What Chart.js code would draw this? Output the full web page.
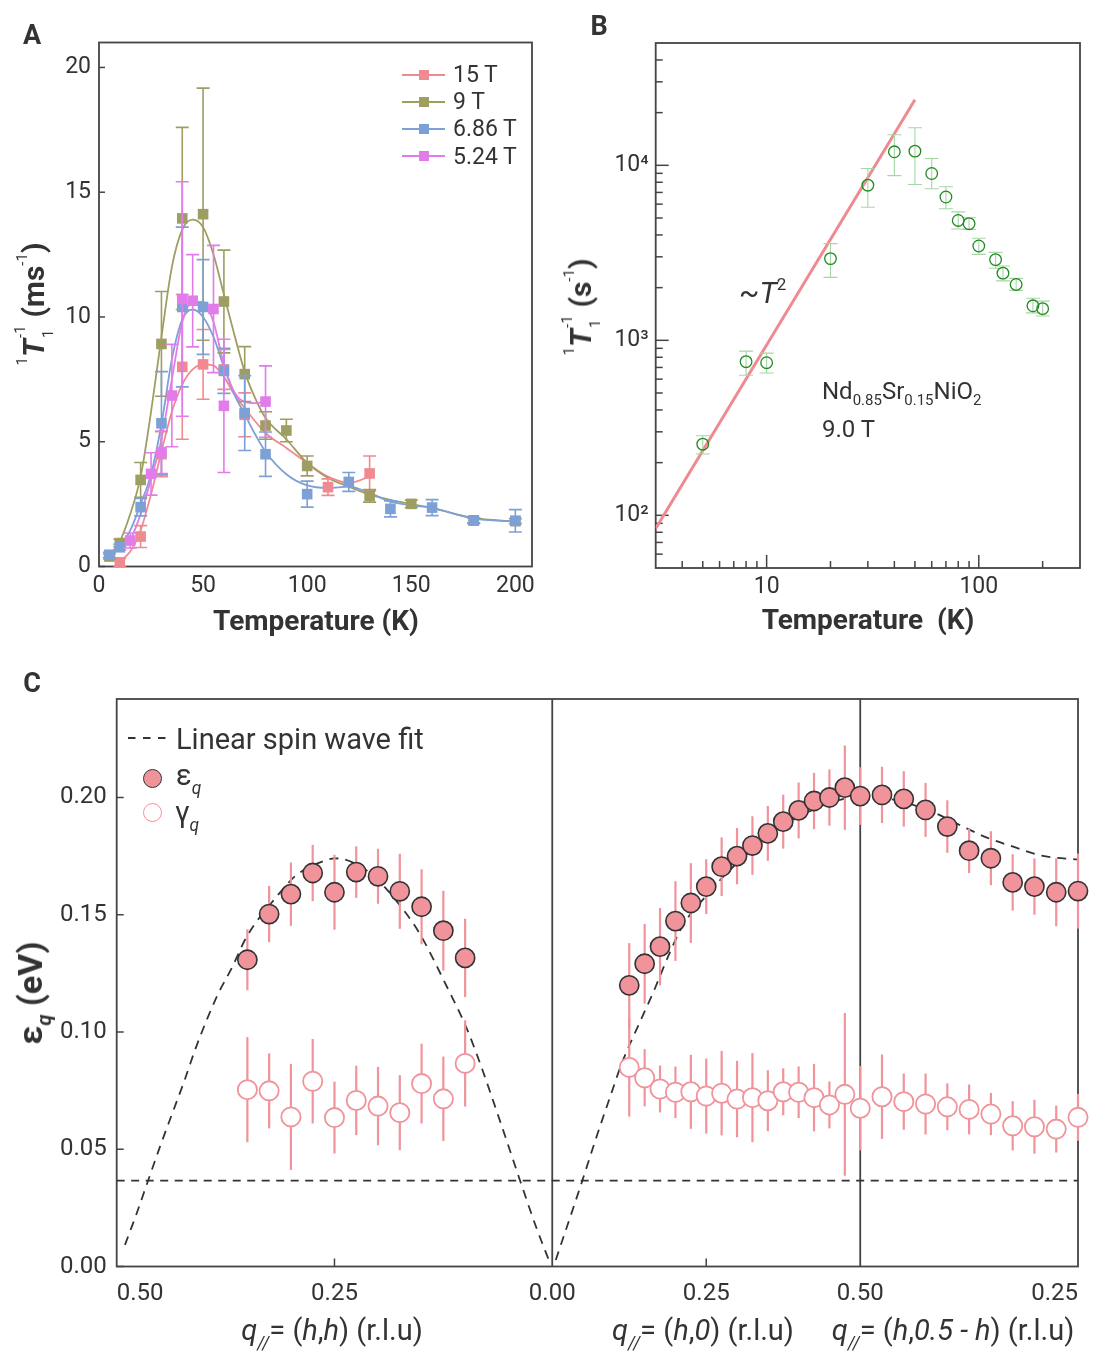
<!DOCTYPE html>
<html>
<head>
<meta charset="utf-8">
<script src="https://cdn.jsdelivr.net/npm/chart.js@4.4.1/dist/chart.umd.min.js"></script>
<style>
html,body{margin:0;padding:0;background:#fff}
body{width:1104px;height:1364px;position:relative;overflow:hidden;font-family:Roboto,sans-serif;color:#333}
canvas{position:absolute;display:block}
.t{position:absolute;white-space:nowrap;line-height:1;color:#333}
.c{transform:translate(-50%,-50%)}
.rot{transform:translate(-50%,-50%) rotate(-90deg)}
.b{font-weight:bold}
.yt .sp{font-size:15px;position:relative;top:-17px;font-weight:normal}
.yt .stk{display:inline-block;position:relative;width:14px;height:1px}
.yt .stk .u{position:absolute;left:1px;top:-30px;font-size:15px;font-weight:normal}
.yt .stk .d{position:absolute;left:1px;top:-2px;font-size:15px;font-weight:normal}
.qs{font-size:0.6em;position:relative;top:0.5em}
.lgrow{position:absolute;height:0}
.lgrow .ln{position:absolute;left:0;top:-1px;width:43px;height:2px}
.lgrow .sq{position:absolute;left:16.5px;top:-5px;width:10px;height:10px}
.lgrow .tx{position:absolute;left:51px;top:-11.5px;font-size:23px;line-height:1;color:#333;white-space:nowrap}
</style>
</head>
<body>
<canvas id="cA" width="552" height="650" style="left:0;top:0"></canvas>
<canvas id="cB" width="552" height="650" style="left:552px;top:0"></canvas>
<canvas id="cC" width="1104" height="714" style="left:0;top:650px"></canvas>

<div class="t c b" style="left:32px;top:35px;font-size:27px">A</div>
<div class="t c b" style="left:599px;top:26px;font-size:27px">B</div>
<div class="t c b" style="left:32px;top:683px;font-size:27px">C</div>

<div class="t c b" style="left:316px;top:621px;font-size:28px">Temperature (K)</div>
<div class="t c b" style="left:868px;top:620px;font-size:28px">Temperature&nbsp; (K)</div>

<div class="t rot b yt" style="left:34px;top:304px;font-size:30px"><span class="sp">1</span><i>T</i><span class="stk"><span class="u">-1</span><span class="d">1</span></span> (ms<span class="sp">-1</span>)</div>
<div class="t rot b yt" style="left:581px;top:307px;font-size:30px"><span class="sp">1</span><i>T</i><span class="stk"><span class="u">-1</span><span class="d">1</span></span> (s<span class="sp">-1</span>)</div>

<div class="t" style="left:739px;top:278px;font-size:30px">~<i>T</i><span style="font-size:17px;position:relative;top:-13px">2</span></div>
<div class="t" style="left:822px;top:379px;font-size:24px">Nd<span style="font-size:15px;position:relative;top:6px">0.85</span>Sr<span style="font-size:15px;position:relative;top:6px">0.15</span>NiO<span style="font-size:15px;position:relative;top:6px">2</span></div>
<div class="t" style="left:822px;top:417px;font-size:24px">9.0 T</div>

<div id="legA"></div>

<svg style="position:absolute;left:127px;top:733px" width="44" height="10"><line x1="1" y1="5" x2="42" y2="5" stroke="#333" stroke-width="1.8" stroke-dasharray="7.5,7.5"/></svg>
<div class="t" style="left:176px;top:725px;font-size:29px">Linear spin wave fit</div>
<div style="position:absolute;left:142.5px;top:768.5px;width:17px;height:17px;border-radius:50%;background:#f0939a;border:1.6px solid #333"></div>
<div class="t" style="left:176px;top:761px;font-size:29px">ε<i class="qs">q</i></div>
<div style="position:absolute;left:142.5px;top:803px;width:17px;height:17px;border-radius:50%;background:#fff;border:1.8px solid #f0939a"></div>
<div class="t" style="left:175px;top:798px;font-size:29px">γ<i class="qs">q</i></div>

<div class="t rot b" style="left:30px;top:993px;font-size:34px">ε<i class="qs" style="top:0.45em">q</i> (eV)</div>

<div class="t c" style="left:332px;top:1330px;font-size:29px"><i>q</i><i class="qs">//</i>= (<i>h</i>,<i>h</i>) (r.l.u)</div>
<div class="t c" style="left:703px;top:1330px;font-size:29px"><i>q</i><i class="qs">//</i>= (<i>h</i>,<i>0</i>) (r.l.u)</div>
<div class="t c" style="left:953px;top:1330px;font-size:29px"><i>q</i><i class="qs">//</i>= (<i>h</i>,<i>0.5 - h</i>) (r.l.u)</div>

<script>
// ================= DATA =================
// Panel A : 1/T1 (ms^-1) vs temperature (K) for four fields
const seriesNamesA = ['15 T', '9 T', '6.86 T', '5.24 T'];
const tA15 = [10, 20, 30, 40, 50, 60, 70, 110, 130];
const vA15 = [0.17, 1.2, 4.5, 8.0, 8.1, 7.9, 6.08, 3.18, 3.73];
const eA15 = [0.15, 0.44, 0.9, 2.9, 1.4, 0.8, 0.88, 0.33, 0.7];
const tA9 = [5, 10, 20, 30, 40, 50, 60, 70, 80, 90, 100, 130, 150, 180, 200];
const vA9 = [0.40, 0.94, 3.47, 8.92, 13.95, 14.12, 10.62, 7.71, 5.65, 5.45, 4.03, 2.83, 2.51, 1.85, 1.82];
const eA9 = [0.1, 0.15, 0.7, 2.1, 3.65, 5.05, 2.06, 1.1, 0.55, 0.45, 0.4, 0.25, 0.15, 0.1, 0.1];
const tA686 = [5, 10, 20, 30, 40, 50, 60, 70, 80, 100, 120, 140, 160, 180, 200];
const vA686 = [0.47, 0.77, 2.38, 5.74, 10.4, 10.4, 7.84, 6.15, 4.5, 2.9, 3.39, 2.31, 2.36, 1.84, 1.83];
const eA686 = [0.1, 0.12, 0.35, 2.07, 3.2, 1.9, 0.9, 1.5, 0.89, 0.52, 0.38, 0.32, 0.32, 0.12, 0.45];
const tA524 = [15, 25, 30, 35, 40, 45, 55, 60, 80];
const vA524 = [1.04, 3.71, 4.58, 6.85, 10.72, 10.65, 10.32, 6.44, 6.61];
const eA524 = [0.3, 0.85, 0.85, 2.05, 4.7, 1.85, 2.55, 2.67, 1.43];
// fitted curves
const fitA15T = [10, 15, 20, 25, 30, 35, 40, 45, 50, 55, 60, 65, 70, 80, 90, 100, 110, 120, 130];
const fitA15V = [0.2, 0.6, 1.45, 2.9, 4.6, 6.2, 7.3, 7.9, 8.1, 8.05, 7.6, 6.9, 6.35, 5.35, 4.75, 4.15, 3.6, 3.35, 3.6];
const fitA9T = [5, 10, 15, 20, 25, 30, 35, 40, 45, 50, 55, 60, 65, 70, 75, 80, 90, 100, 110, 120, 130, 140, 150, 160, 180, 200];
const fitA9V = [0.45, 1.0, 2.1, 3.6, 6.2, 9.2, 12.0, 13.5, 13.9, 13.6, 12.5, 10.9, 9.3, 7.8, 6.75, 5.95, 5.1, 4.15, 3.55, 3.2, 2.88, 2.67, 2.5, 2.34, 1.95, 1.8];
const fitA686T = [5, 10, 15, 20, 25, 30, 35, 40, 45, 50, 55, 60, 65, 70, 75, 80, 90, 100, 110, 120, 130, 140, 150, 160, 180, 200];
const fitA686V = [0.47, 0.85, 1.45, 2.5, 3.7, 5.7, 8.3, 9.9, 10.3, 10.0, 9.2, 8.0, 6.9, 6.1, 5.3, 4.6, 3.7, 3.25, 3.15, 3.2, 2.95, 2.6, 2.45, 2.35, 1.92, 1.8];
const fitA524T = [15, 20, 25, 30, 35, 40, 45, 50, 55, 60, 65, 70, 75, 80];
const fitA524V = [1.0, 2.1, 3.5, 5.1, 7.5, 9.8, 10.6, 10.6, 9.8, 8.1, 7.0, 6.6, 6.55, 6.6];
const ticksAx = [0, 50, 100, 150, 200];
const ticksAy = [0, 5, 10, 15, 20];

// Panel B : 1/T1 (s^-1) vs T, log-log
const tB = [5, 8, 10, 20, 30, 40, 50, 60, 70, 80, 90, 100, 120, 130, 150, 180, 200];
const rB = [255, 755, 745, 2930, 7700, 11950, 12050, 8980, 6590, 4840, 4640, 3460, 2890, 2420, 2085, 1575, 1517];
const rBlo = [224, 632, 650, 2290, 5760, 8730, 7770, 7350, 5650, 4330, 4300, 3100, 2580, 2185, 1930, 1435, 1378];
const rBhi = [285, 868, 845, 3570, 9590, 14960, 16400, 10930, 7550, 5420, 5020, 3830, 3180, 2660, 2260, 1740, 1675];
const fitBT = [3, 50];
const fitBR = [84, 23700];
const ticksBx = [10, 100];
const tickLabelsBx = ['10', '100'];
const minorBx = [4, 5, 6, 7, 8, 9, 20, 30, 40, 50, 60, 70, 80, 90, 200];
const ticksBy = [100, 1000, 10000];
const tickLabelsBy = ['10²', '10³', '10⁴'];
const minorBy = [60, 70, 80, 90, 200, 300, 400, 500, 600, 700, 800, 900, 2000, 3000, 4000, 5000, 6000, 7000, 8000, 9000, 20000, 30000, 40000];

// Panel C : magnon energy and damping along three q paths
const hHH = [0.35, 0.325, 0.30, 0.275, 0.25, 0.225, 0.20, 0.175, 0.15, 0.125, 0.10];
const epsHH = [0.1308, 0.1503, 0.1588, 0.1678, 0.1596, 0.1682, 0.1664, 0.1600, 0.1534, 0.1432, 0.1316];
const epsErrHH = [0.013, 0.012, 0.0135, 0.012, 0.016, 0.011, 0.0117, 0.016, 0.016, 0.017, 0.0167];
const gamHH = [0.0754, 0.0749, 0.0638, 0.079, 0.0635, 0.0708, 0.0684, 0.0656, 0.078, 0.0715, 0.0866];
const gamErrHH = [0.0224, 0.016, 0.0226, 0.018, 0.0153, 0.0148, 0.0167, 0.016, 0.017, 0.018, 0.0184];
const hH0 = [0.125, 0.15, 0.175, 0.2, 0.225, 0.25, 0.275, 0.3, 0.325, 0.35, 0.375, 0.4, 0.425, 0.45, 0.475, 0.5];
const epsH0 = [0.1199, 0.1291, 0.1364, 0.1473, 0.155, 0.162, 0.1705, 0.175, 0.1795, 0.1847, 0.1897, 0.1945, 0.1985, 0.2, 0.2042, 0.2006];
const epsErrH0 = [0.018, 0.017, 0.0165, 0.017, 0.017, 0.0117, 0.0125, 0.012, 0.0125, 0.0117, 0.0115, 0.0119, 0.012, 0.012, 0.018, 0.0123];
const gamH0 = [0.0849, 0.0805, 0.0757, 0.0743, 0.0745, 0.0727, 0.0739, 0.0714, 0.072, 0.0707, 0.0745, 0.0743, 0.072, 0.0689, 0.0734, 0.0675];
const gamErrH0 = [0.021, 0.0122, 0.01, 0.011, 0.0158, 0.016, 0.018, 0.0163, 0.019, 0.013, 0.01, 0.011, 0.0144, 0.01, 0.0347, 0.018];
const hHK = [0.475, 0.45, 0.425, 0.4, 0.375, 0.35, 0.325, 0.3, 0.275, 0.25];
const epsHK = [0.2011, 0.1994, 0.1947, 0.1876, 0.1773, 0.1741, 0.1638, 0.162, 0.1596, 0.1601];
const epsErrHK = [0.012, 0.0118, 0.0115, 0.0112, 0.0095, 0.0115, 0.012, 0.012, 0.0145, 0.016];
const gamHK = [0.0724, 0.0703, 0.0693, 0.0681, 0.067, 0.065, 0.06, 0.0596, 0.0586, 0.0636];
const gamErrHK = [0.018, 0.012, 0.013, 0.01, 0.0106, 0.009, 0.0105, 0.0115, 0.01, 0.01];
// linear spin wave fit
const fitHHh = [0.4905, 0.477, 0.4637, 0.4503, 0.4369, 0.4227, 0.4101, 0.3967, 0.3833, 0.368, 0.3508, 0.3164, 0.2934, 0.259, 0.25, 0.2399, 0.2066, 0.1748, 0.1518, 0.1212, 0.0982, 0.083, 0.06, 0.037, 0.0179, 0.0026];
const fitHHe = [0.0092, 0.0227, 0.0369, 0.0511, 0.0646, 0.0788, 0.0923, 0.1051, 0.1165, 0.1272, 0.1406, 0.1577, 0.167, 0.1733, 0.1740, 0.1737, 0.167, 0.154, 0.1417, 0.1195, 0.1015, 0.0868, 0.0621, 0.0367, 0.0162, 0.0015];
const fitH0h = [0.0057, 0.0447, 0.0738, 0.096, 0.113, 0.1437, 0.1633, 0.188, 0.208, 0.225, 0.25, 0.275, 0.3, 0.325, 0.35, 0.375, 0.4, 0.425, 0.45, 0.475, 0.5];
const fitH0e = [0.0028, 0.0333, 0.0568, 0.0739, 0.0867, 0.1051, 0.1165, 0.1321, 0.1435, 0.1505, 0.158, 0.1655, 0.172, 0.178, 0.1833, 0.1878, 0.1918, 0.195, 0.1977, 0.1995, 0.2005];
const fitHKh = [0.5, 0.475, 0.45, 0.4138, 0.3821, 0.3553, 0.3227, 0.2919, 0.25];
const fitHKe = [0.2005, 0.1999, 0.198, 0.1933, 0.1876, 0.183, 0.1788, 0.1752, 0.1735];
const gapLevel = 0.0366;
const ticksCy = [0, 0.05, 0.10, 0.15, 0.20];
const tickLabelsCx = ['0.50', '0.25', '0.00', '0.25', '0.50', '0.25'];

// ================= HELPERS =================
const R2 = Math.SQRT2;
const sHH = h => (0.5 - h) * R2;            // (h,h) path, h: 0.5 -> 0
const sH0 = h => 0.5 * R2 + h;              // (h,0) path, h: 0 -> 0.5
const sHK = h => 0.5 * R2 + 0.5 + (0.5 - h) * R2; // (h,0.5-h) path, h: 0.5 -> 0.25
const sMax = sHK(0.25);
const tickPosCx = [sHH(0.5), sHH(0.25), sHH(0), sH0(0.25), sH0(0.5), sHK(0.25)];

const xy = (xs, ys) => xs.map((x, i) => ({x: x, y: ys[i]}));
function zeroPad(s) { s.paddingLeft = 0; s.paddingRight = 0; s.paddingTop = 0; s.paddingBottom = 0; }
const fixW = w => s => { s.width = w; zeroPad(s); };
const fixH = h => s => { s.height = h; zeroPad(s); };
const setTicks = vals => s => { s.ticks = vals.map(v => ({value: v})); };
const noGrid = {display: false, drawTicks: false};
const noBorder = {display: false};

Chart.defaults.font.family = 'Roboto';
Chart.defaults.color = '#333';
Chart.defaults.animation = false;
Chart.defaults.events = [];
Chart.defaults.plugins.legend.display = false;
Chart.defaults.plugins.tooltip.enabled = false;

const errPlugin = {
  id: 'errbars',
  beforeDatasetDraw(chart, args) {
    const ds = chart.data.datasets[args.index];
    const eb = ds.errorBars;
    if (!eb) return;
    const xs = chart.scales.x, ys = chart.scales.y, ctx = chart.ctx;
    ctx.save();
    ctx.strokeStyle = eb.color; ctx.lineWidth = eb.width; ctx.lineCap = 'butt';
    ds.data.forEach((p, i) => {
      const x = xs.getPixelForValue(p.x);
      const y1 = ys.getPixelForValue(eb.lo[i]);
      const y2 = ys.getPixelForValue(eb.hi[i]);
      ctx.beginPath();
      ctx.moveTo(x, y1); ctx.lineTo(x, y2);
      if (eb.cap) {
        ctx.moveTo(x - eb.cap, y1); ctx.lineTo(x + eb.cap, y1);
        ctx.moveTo(x - eb.cap, y2); ctx.lineTo(x + eb.cap, y2);
      }
      ctx.stroke();
    });
    ctx.restore();
  }
};

const framePlugin = {
  id: 'frame',
  beforeDatasetsDraw(chart, args, opts) {
    const ctx = chart.ctx, a = chart.chartArea;
    ctx.save();
    ctx.strokeStyle = '#444'; ctx.lineWidth = 1.8;
    (opts.vlines || []).forEach(v => {
      const p = chart.scales.x.getPixelForValue(v);
      ctx.beginPath(); ctx.moveTo(p, a.top); ctx.lineTo(p, a.bottom); ctx.stroke();
    });
    (opts.ticks || []).forEach(t => {
      const sc = chart.scales[t.axis];
      ctx.lineWidth = 1.5;
      t.values.forEach(v => {
        const p = sc.getPixelForValue(v);
        ctx.beginPath();
        if (t.axis === 'x') { ctx.moveTo(p, a.bottom); ctx.lineTo(p, a.bottom - t.len); }
        else { ctx.moveTo(a.left, p); ctx.lineTo(a.left + t.len, p); }
        ctx.stroke();
      });
    });
    ctx.lineWidth = 1.8;
    ctx.strokeRect(a.left, a.top, a.right - a.left, a.bottom - a.top);
    ctx.restore();
  }
};

// ================= PANEL A =================
const colR = '#f08a91', colO = '#9e9e62', colBl = '#7da0d6', colM = '#e27cea';
const colorsA = [colR, colO, colBl, colM];

function sqMarkers(t, v, e, col) {
  return {
    data: xy(t, v), pointStyle: 'rect', pointRadius: 7.5, backgroundColor: col, borderColor: col,
    borderWidth: 0, showLine: false, clip: false,
    errorBars: {lo: v.map((y, i) => y - e[i]), hi: v.map((y, i) => y + e[i]), color: col, width: 1.6, cap: 6.5}
  };
}
function fitLine(t, v, col, w) {
  return {data: xy(t, v), showLine: true, pointRadius: 0, borderColor: col, borderWidth: w || 1.8,
    cubicInterpolationMode: 'monotone', fill: false};
}

new Chart(document.getElementById('cA'), {
  type: 'scatter',
  data: {datasets: [
    sqMarkers(tA524, vA524, eA524, colM),
    sqMarkers(tA686, vA686, eA686, colBl),
    sqMarkers(tA9, vA9, eA9, colO),
    sqMarkers(tA15, vA15, eA15, colR),
    fitLine(fitA524T, fitA524V, colM),
    fitLine(fitA686T, fitA686V, colBl),
    fitLine(fitA9T, fitA9V, colO),
    fitLine(fitA15T, fitA15V, colR)
  ]},
  options: {
    responsive: false, devicePixelRatio: 1,
    layout: {padding: {left: 0, right: 20, top: 42.5, bottom: 0}},
    scales: {
      x: {type: 'linear', min: 0, max: 208, afterBuildTicks: setTicks(ticksAx), afterFit: fixH(83.5),
        grid: noGrid, border: noBorder,
        ticks: {font: {size: 23}, color: '#333', padding: 6, maxRotation: 0, autoSkip: false}},
      y: {type: 'linear', min: 0, max: 21, afterBuildTicks: setTicks(ticksAy), afterFit: fixW(99),
        grid: noGrid, border: noBorder,
        ticks: {font: {size: 23}, color: '#333', padding: 8, autoSkip: false}}
    },
    plugins: {frame: {ticks: [{axis: 'y', values: ticksAy, len: 6}]}}
  },
  plugins: [errPlugin, framePlugin]
});

// legend A (HTML)
(function () {
  const host = document.getElementById('legA');
  seriesNamesA.forEach((name, i) => {
    const row = document.createElement('div');
    row.className = 'lgrow';
    row.style.left = '402px';
    row.style.top = (74.5 + 27.2 * i) + 'px';
    row.innerHTML = '<div class="ln" style="background:' + colorsA[i] + '"></div>' +
      '<div class="sq" style="background:' + colorsA[i] + '"></div>' +
      '<div class="tx">' + name + '</div>';
    host.appendChild(row);
  });
})();

// ================= PANEL B =================
const colG = '#228a22', colGe = '#a6d6a6', colFit = '#f08a91';
new Chart(document.getElementById('cB'), {
  type: 'scatter',
  data: {datasets: [
    {data: xy(tB, rB), pointStyle: 'circle', pointRadius: 5.8, backgroundColor: 'rgba(255,255,255,0)',
      borderColor: colG, borderWidth: 1.3, showLine: false, clip: false,
      errorBars: {lo: rBlo, hi: rBhi, color: colGe, width: 1.1, cap: 7}},
    {data: xy(fitBT, fitBR), showLine: true, pointRadius: 0, borderColor: colFit, borderWidth: 3, fill: false}
  ]},
  options: {
    responsive: false, devicePixelRatio: 1,
    layout: {padding: {left: 0, right: 24, top: 43, bottom: 0}},
    scales: {
      x: {type: 'logarithmic', min: 3, max: 300, afterBuildTicks: setTicks(ticksBx), afterFit: fixH(82),
        grid: noGrid, border: noBorder,
        ticks: {font: {size: 23}, color: '#333', padding: 5, maxRotation: 0, autoSkip: false,
          callback: (v, i) => tickLabelsBx[i]}},
      y: {type: 'logarithmic', min: 50, max: 50000, afterBuildTicks: setTicks(ticksBy), afterFit: fixW(103.7),
        grid: noGrid, border: noBorder,
        ticks: {font: {size: 23}, color: '#333', padding: 7, autoSkip: false,
          callback: (v, i) => tickLabelsBy[i]}}
    },
    plugins: {frame: {ticks: [
      {axis: 'x', values: ticksBx, len: 13}, {axis: 'x', values: minorBx, len: 7},
      {axis: 'y', values: ticksBy, len: 13}, {axis: 'y', values: minorBy, len: 7}
    ]}}
  },
  plugins: [errPlugin, framePlugin]
});

// ================= PANEL C =================
const colP = '#f0939a';
const epsPts = [].concat(xy(hHH.map(sHH), epsHH), xy(hH0.map(sH0), epsH0), xy(hHK.map(sHK), epsHK));
const epsErr = [].concat(epsErrHH, epsErrH0, epsErrHK);
const gamPts = [].concat(xy(hHH.map(sHH), gamHH), xy(hH0.map(sH0), gamH0), xy(hHK.map(sHK), gamHK));
const gamErr = [].concat(gamErrHH, gamErrH0, gamErrHK);
function dashed(pts, dash) {
  return {data: pts, showLine: true, pointRadius: 0, borderColor: '#333', borderWidth: 1.8,
    borderDash: dash, cubicInterpolationMode: 'monotone', fill: false};
}
new Chart(document.getElementById('cC'), {
  type: 'scatter',
  data: {datasets: [
    {data: epsPts, pointStyle: 'circle', pointRadius: 9.6, backgroundColor: colP, borderColor: '#333',
      borderWidth: 1.6, showLine: false, clip: false,
      errorBars: {lo: epsPts.map((p, i) => p.y - epsErr[i]), hi: epsPts.map((p, i) => p.y + epsErr[i]), color: colP, width: 2.2, cap: 0}},
    {data: gamPts, pointStyle: 'circle', pointRadius: 9.6, backgroundColor: '#fff', borderColor: colP,
      borderWidth: 1.8, showLine: false, clip: false,
      errorBars: {lo: gamPts.map((p, i) => p.y - gamErr[i]), hi: gamPts.map((p, i) => p.y + gamErr[i]), color: colP, width: 2.2, cap: 0}},
    dashed(xy(fitHHh.map(sHH), fitHHe), [9, 7]),
    dashed(xy(fitH0h.map(sH0), fitH0e), [9, 7]),
    dashed(xy(fitHKh.map(sHK), fitHKe), [9, 7]),
    dashed([{x: 0, y: gapLevel}, {x: sMax, y: gapLevel}], [8, 6.5])
  ]},
  options: {
    responsive: false, devicePixelRatio: 1,
    layout: {padding: {left: 0, right: 26, top: 49, bottom: 0}},
    scales: {
      x: {type: 'linear', min: 0, max: sMax, afterBuildTicks: setTicks(tickPosCx), afterFit: fixH(97.5),
        grid: noGrid, border: noBorder,
        ticks: {font: {size: 24}, color: '#333', padding: 13, maxRotation: 0, autoSkip: false, align: 'inner',
          callback: (v, i) => tickLabelsCx[i]}},
      y: {type: 'linear', min: 0, max: 0.242, afterBuildTicks: setTicks(ticksCy), afterFit: fixW(116.7),
        grid: noGrid, border: noBorder,
        ticks: {font: {size: 24}, color: '#333', padding: 10, autoSkip: false,
          callback: v => v.toFixed(2)}}
    },
    plugins: {frame: {
      vlines: [sHH(0), sH0(0.5)],
      ticks: [{axis: 'y', values: ticksCy, len: 7}, {axis: 'x', values: [sHH(0.25), sH0(0.25)], len: 8}]
    }}
  },
  plugins: [errPlugin, framePlugin]
});
</script>
</body>
</html>
